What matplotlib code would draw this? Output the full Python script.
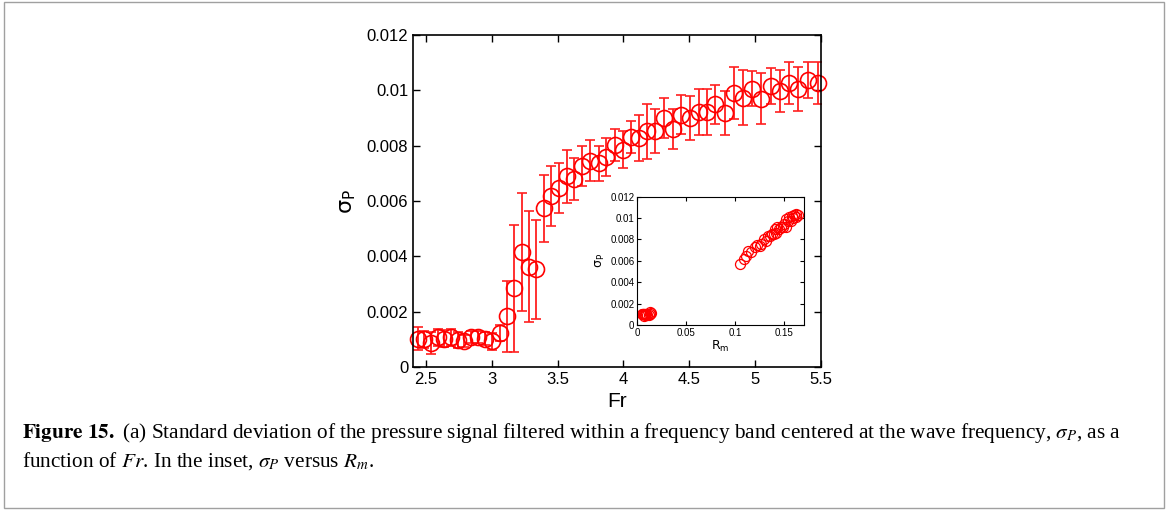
import numpy as np
import matplotlib
matplotlib.use("Agg")
import matplotlib.pyplot as plt
from matplotlib.ticker import FuncFormatter
from matplotlib.patches import Rectangle

# Froude number of each run
fr = [2.436, 2.486, 2.537, 2.593, 2.638, 2.689, 2.740, 2.791, 2.842, 2.893,
      2.948, 3.004, 3.060, 3.114, 3.169, 3.228, 3.283, 3.339, 3.395, 3.453,
      3.512, 3.569, 3.628, 3.685, 3.748, 3.811, 3.870, 3.933, 3.994, 4.058,
      4.116, 4.180, 4.243, 4.306, 4.376, 4.439, 4.504, 4.573, 4.637, 4.700,
      4.769, 4.839, 4.908, 4.980, 5.048, 5.119, 5.190, 5.258, 5.330, 5.403,
      5.482]

# standard deviation of the filtered pressure signal
sigma_p = [0.00103, 0.00100, 0.00088, 0.00107, 0.00103, 0.00107, 0.00097, 0.00095, 0.00107, 0.00109,
           0.00103, 0.00093, 0.00123, 0.00183, 0.00285, 0.00415, 0.00363, 0.00353, 0.00573, 0.00618,
           0.00648, 0.00689, 0.00679, 0.00725, 0.00746, 0.00737, 0.00759, 0.00803, 0.00786, 0.00832,
           0.00828, 0.00852, 0.00853, 0.00901, 0.00859, 0.00912, 0.00900, 0.00921, 0.00921, 0.00949,
           0.00919, 0.00989, 0.00973, 0.01006, 0.00969, 0.01015, 0.00997, 0.01027, 0.01006, 0.01037,
           0.01025]

# error bar half-length
sigma_err = [0.00040, 0.00030, 0.00040, 0.00030, 0.00030, 0.00030, 0.00030, 0.00022, 0.00022, 0.00022,
             0.00022, 0.00030, 0.00030, 0.00127, 0.00230, 0.00213, 0.00200, 0.00180, 0.00120, 0.00107,
             0.00090, 0.00097, 0.00075, 0.00072, 0.00075, 0.00063, 0.00070, 0.00057, 0.00066, 0.00058,
             0.00083, 0.00100, 0.00080, 0.00072, 0.00072, 0.00070, 0.00078, 0.00083, 0.00083, 0.00070,
             0.00080, 0.00094, 0.00100, 0.00063, 0.00092, 0.00065, 0.00075, 0.00075, 0.00080, 0.00066,
             0.00076]

# magnetic Reynolds number for the inset (nan = not shown)
nan = np.nan
rm = [0.005, 0.006, 0.007, 0.008, 0.006, 0.009, 0.010, 0.012, 0.013, 0.014,
      0.007, 0.008, 0.013, nan, nan, nan, nan, nan, 0.105, 0.109,
      0.111, 0.113, 0.116, 0.120, 0.122, 0.125, 0.126, 0.129, 0.131, 0.133,
      0.135, 0.137, 0.139, 0.140, 0.142, 0.143, 0.145, 0.147, 0.149, 0.150,
      0.152, 0.152, 0.154, 0.155, 0.157, 0.158, 0.159, 0.160, 0.162, 0.162,
      0.164]

caption1 = (r"$\bf{Figure\ 15.}$ (a) Standard deviation of the pressure signal filtered within a "
            r"frequency band centered at the wave frequency, $\sigma_P$, as a")
caption2 = r"function of $Fr$. In the inset, $\sigma_P$ versus $R_m$."

plt.rcParams["font.family"] = ["Liberation Sans", "DejaVu Sans"]
fmt = FuncFormatter(lambda v, p: "%g" % v)

fig = plt.figure(figsize=(11.68, 5.11), dpi=100)

# main plot
ax = fig.add_axes([0.3536, 0.2818, 0.349, 0.6497])
eb = ax.errorbar(fr, sigma_p, yerr=sigma_err, fmt="o", color="red", mfc="none",
                 ms=11.5, mew=1.2, elinewidth=1.3, capsize=3.5, capthick=1.3,
                 ecolor="#ff2020")
eb[0].set_clip_on(False)
ax.set_xlim(2.4, 5.5)
ax.set_ylim(0, 0.012)
ax.set_xticks([2.5, 3, 3.5, 4, 4.5, 5, 5.5])
ax.set_yticks(np.arange(0, 0.0121, 0.002))
ax.xaxis.set_major_formatter(fmt)
ax.yaxis.set_major_formatter(fmt)
ax.tick_params(direction="in", top=True, right=True, labelsize=12, length=5, width=1)
ax.set_xlabel("Fr", fontsize=15, labelpad=4)
ax.set_ylabel(r"$\mathrm{\sigma_P}$", fontsize=16, labelpad=6)
for s in ax.spines.values():
    s.set_linewidth(1.2)

# inset
axi = fig.add_axes([0.5456, 0.364, 0.1427, 0.2511])
axi.plot(rm, sigma_p, "o", color="red", mfc="none", ms=7.2, mew=0.9)
axi.set_xlim(0, 0.17)
axi.set_ylim(0, 0.012)
axi.set_xticks([0, 0.05, 0.1, 0.15])
axi.set_yticks(np.arange(0, 0.0121, 0.002))
axi.xaxis.set_major_formatter(fmt)
axi.yaxis.set_major_formatter(fmt)
axi.tick_params(direction="in", top=True, right=True, labelsize=7, length=3, width=0.8, pad=2)
axi.set_xlabel(r"$\mathrm{R_m}$", fontsize=9, labelpad=1)
axi.set_ylabel(r"$\mathrm{\sigma_P}$", fontsize=9, labelpad=2)

# caption and frame
fig.text(0.019, 0.152, caption1, fontsize=15.3, family="Liberation Serif",
         math_fontfamily="stix", va="center")
fig.text(0.019, 0.098, caption2, fontsize=15.3, family="Liberation Serif",
         math_fontfamily="stix", va="center")
fig.patches.append(Rectangle((0.003, 0.006), 0.994, 0.99, transform=fig.transFigure,
                             fill=False, edgecolor="#a0a0a0", linewidth=1))

fig.savefig("out.png", dpi=100)
